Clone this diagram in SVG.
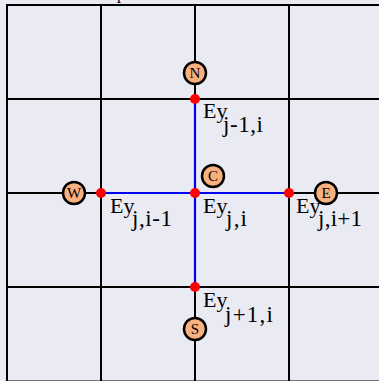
<svg xmlns="http://www.w3.org/2000/svg" width="379" height="381" viewBox="0 0 379 381">
<style>
.grid{stroke:#000;stroke-width:2;fill:none}
.link{stroke:#0000ee;stroke-width:2.2;fill:none}
.pt{fill:#ff0000}
.node circle{fill:#f9b07f;stroke:#000;stroke-width:2.5}
.node text{font-family:"Liberation Serif",serif;font-size:15px;text-anchor:middle;fill:#000}
.lbl{font-family:"Liberation Serif",serif;font-size:22px;fill:#000}
.sub{font-size:23px}
</style>
<rect x="0" y="0" width="379" height="381" fill="#eaeaf2"/>
<text x="117" y="-1" style="font-family:'Liberation Serif',serif;font-size:16px">p</text>
<g id="grid">
<rect class="grid" x="7" y="5" width="376" height="376.5"/>
<line class="grid" x1="101" y1="5" x2="101" y2="381"/>
<line class="grid" x1="195" y1="5" x2="195" y2="381"/>
<line class="grid" x1="289" y1="5" x2="289" y2="381"/>
<line class="grid" x1="7" y1="99" x2="383" y2="99"/>
<line class="grid" x1="7" y1="193" x2="383" y2="193"/>
<line class="grid" x1="7" y1="287" x2="383" y2="287"/>
</g>
<g id="connectors">
<line class="link" x1="195" y1="99" x2="195" y2="287"/>
<line class="link" x1="101" y1="193" x2="289" y2="193"/>
</g>
<g id="points">
<circle class="pt" cx="195" cy="99" r="5"/>
<circle class="pt" cx="101" cy="193" r="5"/>
<circle class="pt" cx="195" cy="193" r="5"/>
<circle class="pt" cx="289" cy="193" r="5"/>
<circle class="pt" cx="195" cy="287" r="5"/>
</g>
<g id="N" class="node"><circle cx="195" cy="73" r="11"/><text x="195" y="78">N</text></g>
<g id="W" class="node"><circle cx="74" cy="193" r="11"/><text x="74" y="198">W</text></g>
<g id="C" class="node"><circle cx="213" cy="176" r="11"/><text x="213" y="181">C</text></g>
<g id="E" class="node"><circle cx="326" cy="193" r="11"/><text x="326" y="198">E</text></g>
<g id="S" class="node"><circle cx="195" cy="329" r="11"/><text x="195" y="334">S</text></g>
<g id="labels">
<text class="lbl" x="203" y="118">Ey<tspan class="sub" x="223" dy="14" textLength="40" lengthAdjust="spacing">j-1,i</tspan></text>
<text class="lbl" x="110" y="213">Ey<tspan class="sub" x="132" dy="13" textLength="40" lengthAdjust="spacing">j,i-1</tspan></text>
<text class="lbl" x="203" y="213">Ey<tspan class="sub" x="226" dy="13" textLength="21" lengthAdjust="spacing">j,i</tspan></text>
<text class="lbl" x="296" y="213">Ey<tspan class="sub" x="318" dy="13" textLength="44" lengthAdjust="spacing">j,i+1</tspan></text>
<text class="lbl" x="203" y="307">Ey<tspan class="sub" x="225" dy="15" textLength="48" lengthAdjust="spacing">j+1,i</tspan></text>
</g>
</svg>
